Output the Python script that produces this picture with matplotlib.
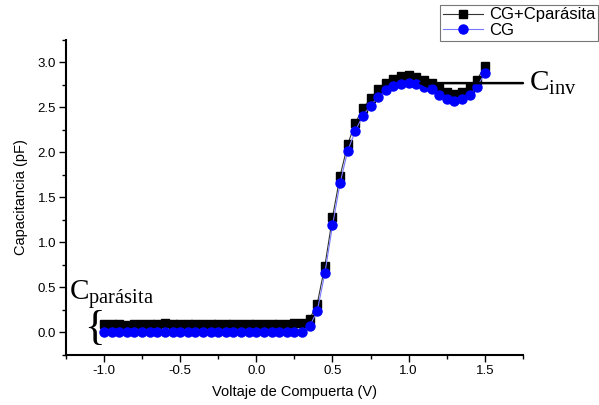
import numpy as np
import matplotlib
matplotlib.use('Agg')
import matplotlib.pyplot as plt
from matplotlib.ticker import MultipleLocator

plt.rcParams['font.family'] = 'Liberation Sans'
plt.rcParams['mathtext.fontset'] = 'custom'
plt.rcParams['mathtext.rm'] = 'Liberation Serif'
plt.rcParams['mathtext.it'] = 'Liberation Serif'

# Gate voltage (V), step 0.05 from -1.0 to 1.5
voltaje = np.round(np.arange(-1.0, 1.5001, 0.05), 2)

# Capacitance with parasitic (pF)
cg_cpar = [0.09, 0.09, 0.09, 0.08, 0.09, 0.09, 0.09, 0.09, 0.10, 0.09,
           0.09, 0.09, 0.09, 0.09, 0.09, 0.09, 0.09, 0.09, 0.09, 0.09,
           0.09, 0.09, 0.09, 0.09, 0.09, 0.10, 0.10, 0.15, 0.32, 0.74,
           1.28, 1.74, 2.09, 2.33, 2.49, 2.60, 2.70, 2.77, 2.82, 2.85,
           2.86, 2.84, 2.81, 2.77, 2.72, 2.67, 2.65, 2.67, 2.72, 2.81,
           2.96]

# Gate capacitance (pF)
cg = [0.00, 0.00, 0.00, 0.00, 0.00, 0.00, 0.00, 0.00, 0.00, 0.00,
      0.00, 0.00, 0.00, 0.00, 0.00, 0.00, 0.00, 0.00, 0.00, 0.00,
      0.00, 0.00, 0.00, 0.00, 0.00, 0.00, 0.01, 0.07, 0.24, 0.66,
      1.19, 1.66, 2.02, 2.24, 2.41, 2.52, 2.62, 2.69, 2.74, 2.76,
      2.77, 2.76, 2.73, 2.70, 2.64, 2.59, 2.57, 2.59, 2.64, 2.73,
      2.88]

c_inv = 2.77

fig = plt.figure(figsize=(5.99, 4.05), dpi=100)
ax = fig.add_axes([0.110, 0.1235, 0.763, 0.778])

ax.plot(voltaje, cg_cpar, color='#333333', lw=0.8, marker='s', ms=5.5,
        mfc='black', mec='black', label='CG+Cparásita')
ax.plot(voltaje, cg, color='#7777ff', lw=0.8, marker='o', ms=6.5,
        mfc='#0000ff', mec='#0000ff', label='CG')

ax.set_xlim(-1.25, 1.75)
ax.set_ylim(-0.25, 3.25)
ax.xaxis.set_major_locator(MultipleLocator(0.5))
ax.xaxis.set_minor_locator(MultipleLocator(0.25))
ax.yaxis.set_major_locator(MultipleLocator(0.5))
ax.yaxis.set_minor_locator(MultipleLocator(0.25))
ax.tick_params(which='major', direction='out', length=5, width=1, pad=2,
               labelsize=9.5, colors='black')
ax.tick_params(which='minor', direction='out', length=3, width=1)
ax.xaxis.set_major_formatter(plt.FuncFormatter(lambda v, p: f'{v:.1f}'))
ax.yaxis.set_major_formatter(plt.FuncFormatter(lambda v, p: f'{v:.1f}'))

for s in ['top', 'right']:
    ax.spines[s].set_visible(False)
for s in ['left', 'bottom']:
    ax.spines[s].set_linewidth(1.5)

ax.set_xlabel('Voltaje de Compuerta (V)', fontsize=10.5, labelpad=6)
ax.set_ylabel('Capacitancia (pF)', fontsize=10.5, labelpad=7)

# C_inv arrow and label
ax.annotate('', xy=(1.06, c_inv), xytext=(1.75, c_inv),
            arrowprops=dict(arrowstyle='-|>', color='black', lw=1.8,
                            mutation_scale=12, shrinkA=0, shrinkB=0))
ax.text(1.79, c_inv, r'$\mathrm{C_{inv}}$', fontsize=21, va='center',
        ha='left', clip_on=False)

# C_parásita label and brace
ax.text(-1.23, 0.42, r'$\mathrm{C_{parásita}}$', fontsize=21, va='center',
        ha='left')
ax.text(-1.13, 0.04, '{', fontsize=31, family='Liberation Serif',
        va='center', ha='left')

leg = fig.legend(loc='upper right', bbox_to_anchor=(0.999, 0.988), fontsize=12,
                 frameon=True, fancybox=False, edgecolor='#555555',
                 borderpad=0.15, labelspacing=0.05, handlelength=2.4,
                 handletextpad=0.4, borderaxespad=0)
leg.get_frame().set_linewidth(0.8)

fig.savefig('out.png', dpi=100)
